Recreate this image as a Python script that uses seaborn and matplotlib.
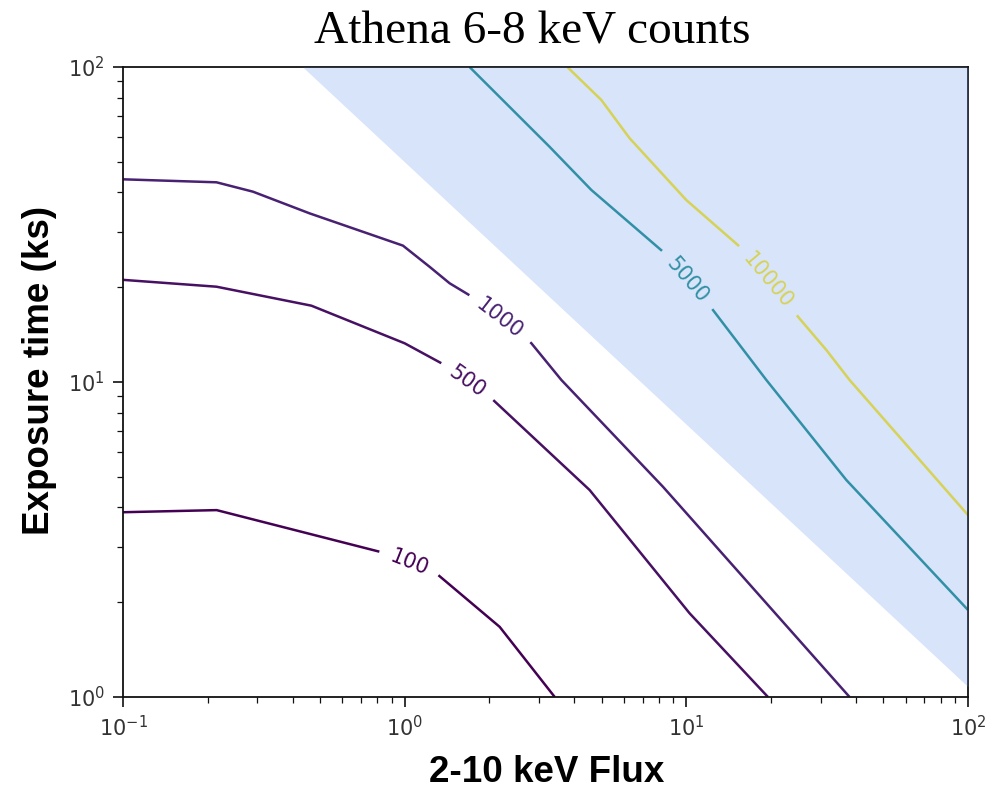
import numpy as np
import matplotlib
matplotlib.use("Agg")
import matplotlib.pyplot as plt
import seaborn as sns
from matplotlib.contour import ContourSet

# ---------------- data ----------------
levels = [100, 500, 1000, 5000, 10000]

flux_100 = [0.1, 0.215, 0.815, 1.035, 1.313, 2.174, 3.41]
time_100 = [3.86, 3.92, 2.89, 2.66, 2.44, 1.67, 1.0]

flux_500 = [0.1, 0.2147, 0.4665, 1.0, 1.35, 1.667, 2.058, 4.536, 10.27, 19.49]
time_500 = [21.1, 20.07, 17.47, 13.27, 11.47, 10.02, 8.77, 4.54, 1.844, 1.0]

flux_1000 = [0.1, 0.2147, 0.2893, 0.46, 0.986, 1.227, 1.444, 1.678, 2.174,
             2.818, 3.60, 8.26, 10.27, 37.98]
time_1000 = [44.0, 43.05, 40.2, 34.3, 27.1, 23.2, 20.58, 18.98, 15.87,
             13.27, 10.15, 4.65, 3.735, 1.0]

flux_5000 = [1.70, 3.27, 4.60, 8.15, 10.07, 12.43, 19.23, 36.98, 100.0]
time_5000 = [100.0, 55.8, 40.7, 26.2, 21.08, 16.93, 10.15, 4.886, 1.889]

flux_10000 = [3.78, 4.99, 6.29, 10.0, 15.25, 19.49, 24.9, 31.4, 37.98, 100.0]
time_10000 = [100.0, 78.6, 59.4, 37.8, 27.2, 20.96, 16.12, 12.64, 10.15, 3.78]

shade_flux = [0.4345, 100.0]
shade_time = [100.0, 1.078]

# label anchor positions (where the inline labels sit)
label_pos = [(1.035, 2.66), (1.667, 10.02), (2.174, 15.87),
             (10.07, 21.08), (19.49, 20.96)]

# ---------------- styling ----------------
sns.set_theme(style="ticks")
plt.rcParams["font.family"] = ["DejaVu Sans"]
plt.rcParams["mathtext.fontset"] = "dejavusans"

fig = plt.figure(figsize=(10.08, 8.0), dpi=100)
ax = fig.add_axes([123 / 1008, 1 - 697 / 800, 845 / 1008, 630 / 800])
ax.set_xscale("log")
ax.set_yscale("log")
ax.set_xlim(0.1, 100)
ax.set_ylim(1, 100)

segs = [
    [np.column_stack([flux_100, time_100])],
    [np.column_stack([flux_500, time_500])],
    [np.column_stack([flux_1000, time_1000])],
    [np.column_stack([flux_5000, time_5000])],
    [np.column_stack([flux_10000, time_10000])],
]
cs = ContourSet(ax, levels, segs, cmap="viridis", linewidths=1.8)
ax.set_xlim(0.1, 100)
ax.set_ylim(1, 100)

cs.clabel(fmt="%d", manual=label_pos, inline=True, inline_spacing=12,
          fontsize=15)

ax.fill_between(shade_flux, shade_time, [100.0, 100.0],
                color="cornflowerblue", alpha=0.25, lw=0, zorder=4)

for s in ax.spines.values():
    s.set_linewidth(1.3)
    s.set_color("#111111")
ax.tick_params(which="major", length=7, width=1.2, labelsize=15,
               colors="#111111", labelcolor="#333333", pad=6)
ax.tick_params(which="minor", length=4, width=0.9, colors="#111111")

fig.text(532.5 / 1008, 1 - 43 / 800, "Athena 6-8 keV counts",
         ha="center", va="baseline", fontsize=34, color="black",
         family=["Liberation Serif", "DejaVu Serif"])
fig.text(546.5 / 1008, 1 - 782 / 800, "2-10 keV Flux",
         ha="center", va="baseline", fontsize=26.5, fontweight="bold",
         color="black", family=["Liberation Sans", "DejaVu Sans"])
fig.text(49 / 1008, 1 - 370 / 800, "Exposure time (ks)",
         ha="center", va="baseline", rotation=90, rotation_mode="anchor",
         fontsize=26.5, fontweight="bold", color="black",
         family=["Liberation Sans", "DejaVu Sans"])

fig.savefig("out.png", dpi=100)
